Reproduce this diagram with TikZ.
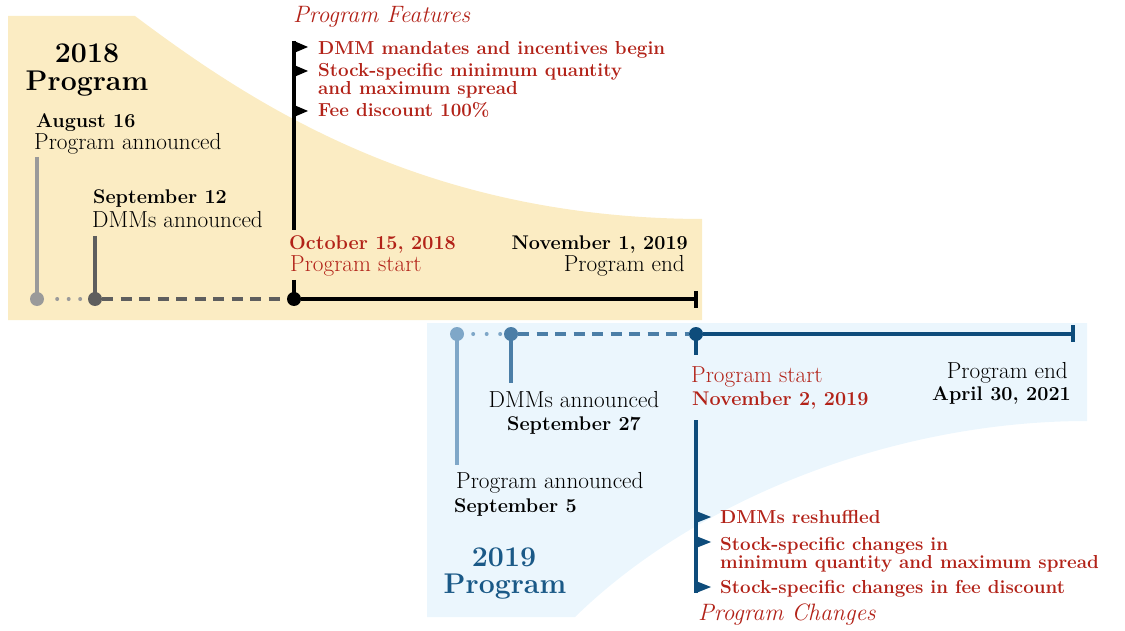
\documentclass[tikz,border=0pt]{standalone}
\usepackage{amsmath,amssymb,tikz}

\definecolor{sand}{HTML}{FBECC3}
\definecolor{sky}{HTML}{EBF6FD}
\definecolor{navy}{HTML}{0E4C7B}
\definecolor{midblue}{HTML}{4B7EA7}
\definecolor{paleblue}{HTML}{7FA7C8}
\definecolor{headblue}{HTML}{1A5987}
\definecolor{greyA}{HTML}{9A9A9A}
\definecolor{greyB}{HTML}{5E5E5E}
\definecolor{brick}{HTML}{B22218}

\begin{document}
\begin{tikzpicture}[x=1pt,y=-1pt,
  lbl/.style={anchor=base west,inner sep=0pt,font=\fontsize{23.2}{26}\selectfont},
  date/.style={anchor=base west,inner sep=0pt,font=\fontsize{19.8}{22}\selectfont\bfseries},
  item/.style={anchor=base west,inner sep=0pt,text=brick,font=\fontsize{18.8}{21}\selectfont\bfseries},
  note/.style={anchor=base west,inner sep=0pt,text=brick,font=\fontsize{23.7}{26}\selectfont\itshape},
  head/.style={anchor=base,inner sep=0pt,font=\fontsize{28.5}{30}\selectfont\bfseries},
  dot/.style={circle,inner sep=0pt,minimum size=14pt},
  stem/.style={line width=4pt},
  dots/.style={line width=4pt,line cap=round,dash pattern=on 0pt off 11.5pt},
  dashes/.style={line width=4pt,dash pattern=on 11pt off 7.5pt}]
\useasboundingbox (0,0) rectangle (1125,631);

% backgrounds
\fill[sand] (8,16) -- (135,16) .. controls (260,110) and (430,218) .. (702,219)
      -- (702,320) -- (8,320) -- cycle;
\fill[sky] (427,323) -- (1087,323) -- (1087,421)
      .. controls (900,421) and (700,495) .. (575,617) -- (427,617) -- cycle;

%%% 2018 program
\node[head] (head18a) at (87,63) {2018};
\node[head] (head18b) at (87,91) {Program};

\coordinate (aug-top) at (37,157);
\coordinate (sep-top) at (95,236);
\coordinate (oct-top) at (294,280);
\coordinate (feat-top) at (294,41);
\coordinate (feat-bot) at (294,230);
\coordinate (end18) at (696,299);

\draw[stem,greyA] (aug-top) -- (37,299);
\draw[stem,greyB] (sep-top) -- (95,299);
\draw[stem] (oct-top) -- (294,299);
\draw[stem] (feat-top) -- (feat-bot);
\foreach \y in {41,65,105}
  \fill (294,\y) -- ++(14,6) -- ++(-14,6) -- cycle;

\node[dot,fill=greyA] (aug) at (37,299) {};
\node[dot,fill=greyB] (sep) at (95,299) {};
\node[dot,fill=black] (oct) at (294,299) {};

\draw[dots,greyA,shorten <=13pt,shorten >=6pt] (aug.east) -- (sep.west);
\draw[dashes,greyB] (sep.east) -- (oct.west);
\draw[line width=4pt] (oct) -- (end18);
\draw[line width=4pt] (end18) ++(0,-8) -- ++(0,17);

\node[date] (aug-date) at (36,128) {August 16};
\node[lbl] (aug-text) at (34,150) {Program announced};
\node[date] (sep-date) at (93,204) {September 12};
\node[lbl] (sep-text) at (92,228) {DMMs announced};
\node[date,text=brick] (oct-date) at (289,250) {October 15, 2018};
\node[lbl,text=brick] (oct-text) at (290,272) {Program start};
\node[date,anchor=base east] (nov-date) at (688,250) {November 1, 2019};
\node[lbl,anchor=base east] (nov-text) at (685,272) {Program end};

\node[note] (features) at (293,23) {Program Features};
\node[item] (feat1) at (318,55) {DMM mandates and incentives begin};
\node[item] (feat2) at (318,77) {Stock-specific minimum quantity};
\node[item] (feat2b) at (318,95) {and maximum spread};
\node[item] (feat3) at (318,117) {Fee discount 100\%};

%%% 2019 program
\node[head,text=headblue] (head19a) at (504,566) {2019};
\node[head,text=headblue] (head19b) at (505,593) {Program};

\coordinate (sep5-bot) at (457,465);
\coordinate (sep27-bot) at (511,383);
\coordinate (nov2-bot) at (696,355);
\coordinate (chg-top) at (696,420);
\coordinate (chg-bot) at (696,593);
\coordinate (end19) at (1073,334);

\draw[stem,paleblue] (457,334) -- (sep5-bot);
\draw[stem,midblue] (511,334) -- (sep27-bot);
\draw[stem,navy] (696,334) -- (nov2-bot);
\draw[stem,navy] (chg-top) -- (chg-bot);
\foreach \y in {511,536,581}
  \fill[navy] (696,\y) -- ++(15,6) -- ++(-15,6) -- cycle;

\node[dot,fill=paleblue] (sep5) at (457,334) {};
\node[dot,fill=midblue] (sep27) at (511,334) {};
\node[dot,fill=navy] (nov2) at (696,334) {};

\draw[dots,paleblue,dash pattern=on 0pt off 13.5pt,shorten <=9pt,shorten >=2pt] (sep5.east) -- (sep27.west);
\draw[dashes,midblue] (sep27.east) -- (nov2.west);
\draw[line width=4pt,navy] (nov2) -- (end19);
\draw[line width=4pt,navy] (end19) ++(0,-9) -- ++(0,17);

\node[lbl,anchor=base] (sep27-text) at (574,407) {DMMs announced};
\node[date,anchor=base] (sep27-date) at (574,430) {September 27};
\node[lbl] (sep5-text) at (456,488) {Program announced};
\node[date] (sep5-date) at (454,512) {September 5};
\node[lbl,text=brick] (nov2-text) at (691,382) {Program start};
\node[date,text=brick] (nov2-date) at (692,405) {November 2, 2019};
\node[lbl,anchor=base east] (apr-text) at (1068,378) {Program end};
\node[date,anchor=base east] (apr-date) at (1071,400) {April 30, 2021};

\node[item] (chg1) at (720,523) {DMMs reshuffled};
\node[item] (chg2) at (720,550) {Stock-specific changes in};
\node[item] (chg2b) at (720,568) {minimum quantity and maximum spread};
\node[item] (chg3) at (720,593) {Stock-specific changes in fee discount};
\node[note] (changes) at (698,620) {Program Changes};

\end{tikzpicture}
\end{document}
